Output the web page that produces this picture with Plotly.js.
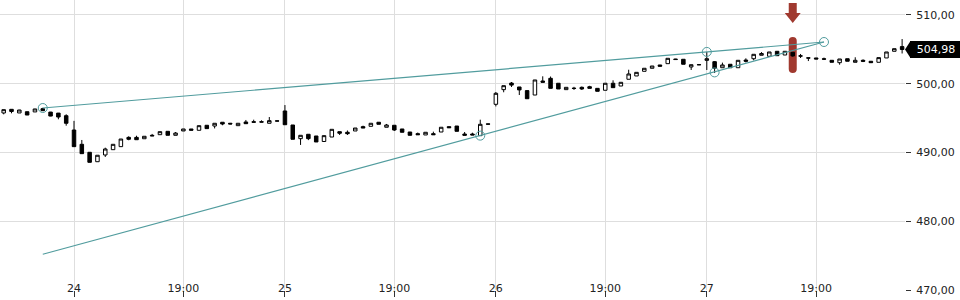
<!DOCTYPE html>
<html>
<head>
<meta charset="utf-8">
<script src="https://cdn.plot.ly/plotly-3.0.1.min.js"></script>
<style>
  html, body { margin: 0; padding: 0; background: #fff; }
  #chart { width: 960px; height: 300px; }
</style>
</head>
<body>
<div id="chart"></div>
<script>
// ---- data ----
const open = [
  495.75, 496.28, 495.75, 495.93, 495.90, 496.37, 495.88, 495.73, 495.35, 493.27,
  491.19, 490.03, 488.66, 489.64, 490.41, 490.85, 492.20, 492.20, 492.00, 492.50,
  492.59, 493.08, 492.50, 493.13, 493.42, 493.23, 493.96, 493.85, 494.40, 494.25,
  493.90, 494.44, 494.48, 494.48, 494.25, 494.60, 496.04, 494.00, 492.01, 492.65,
  492.40, 491.60, 492.25, 493.03, 492.94, 493.13, 493.76, 493.81, 494.40, 493.67,
  493.96, 493.42, 492.98, 492.74, 492.55, 492.74, 492.98, 493.76, 493.85, 492.69,
  492.69, 492.45, 494.16, 497.01, 499.14, 500.10, 499.53, 499.00, 498.36, 500.40,
  500.79, 500.07, 499.14, 499.35, 499.48, 499.57, 499.33, 499.05, 500.07, 499.67,
  500.65, 501.13, 501.81, 502.25, 502.73, 502.92, 503.60, 503.56, 502.44, 502.78,
  503.40, 503.21, 502.33, 502.83, 502.33, 503.45, 503.64, 504.14, 503.99, 504.72,
  504.18, 504.57, 504.06, 503.77, 503.75, 503.62, 503.41, 503.06, 503.64, 503.12,
  503.41, 503.27, 503.12, 503.75, 504.72, 505.40
];
const high = [
  496.25, 496.30, 496.20, 495.95, 496.35, 496.50, 495.90, 495.75, 495.56, 494.60,
  491.82, 490.05, 489.60, 490.70, 491.19, 491.96, 492.36, 492.44, 492.36, 492.70,
  493.03, 493.08, 492.98, 493.42, 493.42, 493.90, 493.96, 494.25, 494.40, 494.30,
  494.25, 494.73, 494.77, 494.68, 495.16, 494.62, 496.90, 494.00, 492.50, 492.65,
  492.40, 492.45, 493.37, 493.03, 493.20, 493.56, 493.90, 494.25, 494.40, 494.15,
  493.96, 493.42, 492.98, 492.90, 492.94, 493.03, 493.67, 493.76, 493.85, 492.98,
  492.88, 494.77, 494.16, 498.80, 499.72, 500.25, 499.53, 499.00, 500.55, 501.08,
  501.05, 500.07, 499.48, 499.55, 499.60, 499.70, 499.33, 500.07, 500.50, 500.21,
  502.04, 501.66, 502.25, 502.58, 502.73, 503.70, 503.62, 503.56, 502.77, 502.80,
  504.62, 503.30, 503.07, 502.83, 503.41, 503.70, 504.28, 504.60, 504.62, 504.72,
  504.72, 504.57, 504.33, 503.78, 503.75, 503.80, 503.41, 503.60, 503.64, 503.85,
  503.55, 503.27, 503.80, 504.62, 505.10, 506.50
];
const low = [
  495.55, 495.70, 495.75, 495.45, 495.90, 496.05, 495.27, 494.83, 493.90, 490.85,
  489.83, 488.57, 488.66, 489.35, 490.41, 490.85, 491.78, 491.86, 492.00, 492.40,
  492.59, 492.50, 492.50, 493.13, 493.23, 493.23, 493.47, 493.50, 493.96, 494.10,
  493.90, 494.19, 494.40, 494.42, 494.25, 494.56, 494.04, 491.92, 491.10, 491.80,
  491.53, 491.60, 492.25, 492.55, 492.55, 493.13, 493.56, 493.81, 494.10, 493.67,
  493.13, 492.94, 492.50, 492.59, 492.55, 492.59, 492.98, 493.60, 493.08, 492.50,
  492.55, 492.40, 494.12, 496.70, 498.76, 499.53, 498.36, 497.82, 498.36, 500.21,
  499.33, 499.24, 499.14, 499.10, 499.10, 499.33, 498.90, 499.05, 499.43, 499.67,
  500.65, 501.13, 501.81, 502.25, 502.54, 502.92, 503.50, 502.83, 502.00, 502.74,
  502.00, 501.56, 502.33, 502.33, 502.33, 503.10, 503.40, 504.14, 503.99, 504.08,
  504.18, 503.93, 503.75, 503.30, 503.60, 503.45, 503.12, 502.77, 503.27, 503.12,
  503.15, 503.06, 503.12, 503.75, 504.72, 504.40
];
const close = [
  496.23, 495.96, 496.18, 495.45, 496.33, 496.08, 495.30, 495.16, 494.25, 490.85,
  489.83, 488.57, 489.60, 490.51, 491.19, 491.96, 491.92, 491.86, 492.36, 492.42,
  493.03, 492.50, 492.83, 493.42, 493.23, 493.90, 493.47, 494.25, 494.14, 494.15,
  494.25, 494.19, 494.40, 494.42, 494.63, 494.57, 494.04, 491.92, 492.50, 492.01,
  491.53, 492.45, 493.37, 492.80, 492.74, 493.56, 493.56, 494.25, 494.10, 494.00,
  493.27, 492.94, 492.50, 492.59, 492.94, 492.59, 493.67, 493.60, 493.08, 492.50,
  492.55, 494.10, 494.12, 498.61, 499.72, 499.80, 499.10, 497.82, 500.55, 500.21,
  499.33, 499.24, 499.48, 499.32, 499.24, 499.33, 498.90, 500.07, 499.43, 500.21,
  501.42, 501.66, 502.25, 502.58, 502.54, 503.70, 503.52, 502.83, 502.77, 502.76,
  503.64, 502.25, 502.73, 502.33, 503.41, 503.27, 504.28, 504.40, 504.62, 504.08,
  504.72, 504.04, 504.02, 503.73, 503.60, 503.58, 503.12, 503.60, 503.27, 503.41,
  503.27, 503.06, 503.80, 504.62, 505.10, 504.98
];
const candleIdx = open.map((_, i) => i);

// x tick positions (candle index) and labels
const xTickVals = [9, 23, 36, 50, 63, 77, 90, 104];
const xTickText = ['24', '19:00', '25', '19:00', '26', '19:00', '27', '19:00'];
const yTickVals = [470, 480, 490, 500, 510];
const yTickText = ['470,00', '480,00', '490,00', '500,00', '510,00'];

// trend lines (candle index / price)
const upperLineX = [5, 105];
const upperLineY = [496.47, 506.07];
const lowerLineX = [5, 105];
const lowerLineY = [475.20, 506.07];
const touchX = [5, 61, 90, 91, 105];
const touchY = [496.47, 492.45, 504.63, 501.65, 506.07];

// signal candle and last price
const signalIdx = 101;
const lastPrice = close[close.length - 1];

// ---- layout geometry ----
const PLOT_W = 905, PLOT_H = 290;
const xRange = [-0.473, 115.37];
const yRange = [470, 512.18];
const kx = (xRange[1] - xRange[0]) / PLOT_W;  // index per px
const ky = (yRange[1] - yRange[0]) / PLOT_H;  // price per px
const pyToPrice = p => yRange[1] - p * ky;

const teal = '#519c9e';
const red = '#a0392f';
const s = signalIdx;

const arrowPath = [
  'M', s - 4 * kx, pyToPrice(3),
  'L', s + 4 * kx, pyToPrice(3),
  'L', s + 4 * kx, pyToPrice(13),
  'L', s + 8 * kx, pyToPrice(13),
  'L', s, pyToPrice(23),
  'L', s - 8 * kx, pyToPrice(13),
  'L', s - 4 * kx, pyToPrice(13), 'Z'
].join(' ');

const barPath = [
  'M', s - 4 * kx, pyToPrice(41),
  'L', s - 4 * kx, pyToPrice(69),
  'Q', s - 4 * kx, pyToPrice(73), s, pyToPrice(73),
  'Q', s + 4 * kx, pyToPrice(73), s + 4 * kx, pyToPrice(69),
  'L', s + 4 * kx, pyToPrice(41),
  'Q', s + 4 * kx, pyToPrice(37), s, pyToPrice(37),
  'Q', s - 4 * kx, pyToPrice(37), s - 4 * kx, pyToPrice(41), 'Z'
].join(' ');

const tagHalf = 8.5 * ky;
const tagPath = [
  'M', 1, lastPrice,
  'L', 1 + 5.5 / PLOT_W, lastPrice + tagHalf,
  'L', 1 + 5.5 / PLOT_W, lastPrice - tagHalf, 'Z'
].join(' ');

const font = 'DejaVu Sans, sans-serif';

const traces = [
  {
    type: 'candlestick',
    x: candleIdx, open: open, high: high, low: low, close: close,
    increasing: { line: { color: '#000', width: 1 }, fillcolor: '#ffffff' },
    decreasing: { line: { color: '#000', width: 1 }, fillcolor: '#000000' },
    whiskerwidth: 0,
    hoverinfo: 'none', showlegend: false
  },
  {
    type: 'scatter', mode: 'lines', x: upperLineX, y: upperLineY,
    line: { color: teal, width: 1.2 }, hoverinfo: 'none', showlegend: false
  },
  {
    type: 'scatter', mode: 'lines', x: lowerLineX, y: lowerLineY,
    line: { color: teal, width: 1.2 }, hoverinfo: 'none', showlegend: false
  },
  {
    type: 'scatter', mode: 'markers', x: touchX, y: touchY,
    marker: { symbol: 'circle-open', size: 9, color: teal, line: { color: teal, width: 1 } },
    hoverinfo: 'none', showlegend: false, cliponaxis: false
  }
];

const layout = {
  width: 960, height: 300,
  margin: { l: 0, r: 960 - PLOT_W, t: 0, b: 300 - PLOT_H, pad: 0 },
  paper_bgcolor: '#ffffff', plot_bgcolor: '#ffffff',
  font: { family: font, size: 11, color: '#222' },
  showlegend: false,
  boxgap: 0.36,
  xaxis: {
    type: 'linear', range: xRange, autorange: false, fixedrange: true,
    rangeslider: { visible: false },
    tickmode: 'array', tickvals: xTickVals, ticktext: xTickText,
    showgrid: true, gridcolor: '#dedede', gridwidth: 1,
    zeroline: false, showline: false,
    ticks: 'outside', ticklen: 6, tickwidth: 1, tickcolor: '#333',
    ticklabelstandoff: -18,
    tickfont: { family: font, size: 11, color: '#222' }
  },
  yaxis: {
    side: 'right', range: yRange, autorange: false, fixedrange: true,
    tickmode: 'array', tickvals: yTickVals, ticktext: yTickText,
    showgrid: true, gridcolor: '#dedede', gridwidth: 1,
    zeroline: false, showline: false,
    ticks: 'outside', ticklen: 5, tickwidth: 1, tickcolor: '#333',
    ticklabelstandoff: 3,
    tickfont: { family: font, size: 11, color: '#222' }
  },
  shapes: [
    { type: 'path', xref: 'x', yref: 'y', path: barPath, fillcolor: red,
      line: { width: 0 }, layer: 'between' },
    { type: 'path', xref: 'x', yref: 'y', path: arrowPath, fillcolor: red,
      line: { width: 0 }, layer: 'above' },
    { type: 'path', xref: 'paper', yref: 'y', path: tagPath, fillcolor: '#000',
      line: { width: 0 }, layer: 'above' }
  ],
  annotations: [
    {
      xref: 'paper', yref: 'y', x: 1, y: lastPrice,
      xanchor: 'left', yanchor: 'middle', xshift: 5,
      text: lastPrice.toFixed(2).replace('.', ','),
      showarrow: false, bgcolor: '#000', borderpad: 3, borderwidth: 0,
      width: 46, height: 11, align: 'center',
      font: { family: font, size: 11, color: '#ffffff' }
    }
  ]
};

Plotly.newPlot('chart', traces, layout, { displayModeBar: false, staticPlot: true });
</script>
</body>
</html>
